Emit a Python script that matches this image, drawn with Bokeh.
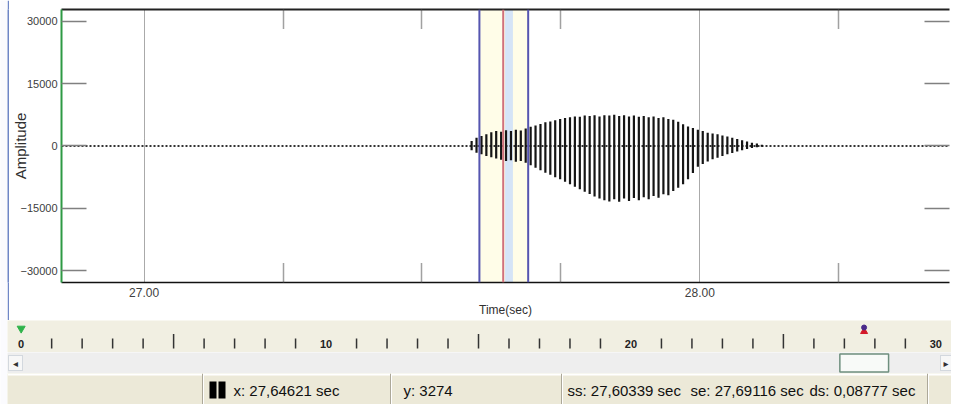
from bokeh.plotting import figure
from bokeh.layouts import column, row
from bokeh.models import (Range1d, LinearAxis, FixedTicker, PrintfTickFormatter,
                          Span, BoxAnnotation, Label, CustomJSTickFormatter)
from bokeh.core.properties import value
from bokeh.embed import file_html
from bokeh.resources import INLINE
from bokeh.core.validation import silence
from bokeh.core.validation.warnings import MISSING_RENDERERS

silence(MISSING_RENDERERS, True)

# ---------------- data ----------------
# visible window of the waveform view (seconds) and amplitude range
view_start, view_end = 26.8514, 28.4493
amp_min, amp_max = -32768, 32767
amp_ticks = [-30000, -15000, 0, 15000, 30000]
time_ticks = [27.0, 28.0]
time_minor = [27.25, 27.5, 27.75, 28.25]

# cursors / selection (seconds)
cursor_x = 27.64621
cursor_y = 3274
sel_start = 27.60339
sel_end = 27.69116
play_band = (27.6496, 27.6637)

# glottal pulses: time, positive peak, negative peak
pulse_t = [27.5894, 27.5982, 27.6071, 27.6159, 27.6248, 27.6336, 27.6425, 27.6513,
           27.6602, 27.6690, 27.6779, 27.6867, 27.6956, 27.7044, 27.7133, 27.7221,
           27.7310, 27.7398, 27.7487, 27.7575, 27.7664, 27.7752, 27.7841, 27.7929,
           27.8018, 27.8106, 27.8195, 27.8283, 27.8372, 27.8460, 27.8549, 27.8637,
           27.8726, 27.8814, 27.8903, 27.8991, 27.9080, 27.9168, 27.9257, 27.9345,
           27.9434, 27.9522, 27.9611, 27.9699, 27.9788, 27.9876, 27.9965, 28.0053,
           28.0142, 28.0230, 28.0319, 28.0407, 28.0496, 28.0584, 28.0673, 28.0761,
           28.0850, 28.0938, 28.1027, 28.1115]
pulse_hi = [1200, 2000, 2400, 2800, 3300, 3600, 3400, 3800, 3600, 3900,
            3700, 4200, 4600, 4900, 5300, 5700, 5900, 6200, 6500, 6700,
            6900, 7100, 7000, 7300, 7200, 7400, 7100, 7400, 7300, 7500,
            7200, 7400, 7100, 7300, 7000, 7200, 6900, 7100, 6700, 6900,
            6500, 6300, 5800, 5200, 4700, 4300, 3900, 3600, 3200, 3000,
            2800, 2500, 2300, 2000, 1700, 1400, 1100, 800, 600, 300]
pulse_lo = [-1000, -1600, -2000, -2400, -2700, -3000, -3300, -3600, -3400, -3800,
            -3600, -4000, -4600, -5200, -5800, -6400, -6900, -7500, -8000, -8600,
            -9200, -9800, -10400, -11000, -11500, -12100, -12600, -13000, -13300, -12800,
            -13400, -12600, -13200, -12500, -13000, -12300, -12800, -12000, -12400, -11600,
            -11800, -10800, -10000, -9200, -8000, -6500, -5000, -4300, -3700, -3200,
            -2800, -2400, -2000, -1700, -1300, -1000, -700, -500, -300, -200]

# overview ruler (whole file, seconds)
ruler_min, ruler_max = -0.448, 30.513
ruler_ticks = [1, 2, 3, 4, 6, 7, 8, 9, 11, 12, 13, 14, 16, 17, 18, 19,
               21, 22, 23, 24, 26, 27, 28, 29]
ruler_major = [5, 15, 25]
ruler_label_pos = [0, 10, 20, 30]
ruler_labels = ["0", "10", "20", "30"]
file_start = 0

def fmt(v, d):
    return f"{v:.{d}f}".replace(".", ",")

status_texts = [f"x: {fmt(cursor_x, 5)} sec", f"y: {cursor_y}",
                f"ss: {fmt(sel_start, 5)} sec", f"se: {fmt(sel_end, 5)} sec",
                f"ds: {fmt(sel_end - sel_start, 5)} sec"]

FONT = "Liberation Sans"

def blank(w, h, color):
    f = figure(width=w, height=h, toolbar_location=None, output_backend="svg",
               min_border=0, x_axis_location=None, y_axis_location=None,
               background_fill_color=color, border_fill_color=color,
               outline_line_color=None)
    f.grid.visible = False
    return f

# ---------------- main waveform view ----------------
p = figure(width=942, height=320, x_range=Range1d(view_start, view_end),
           y_range=Range1d(amp_min, amp_max), output_backend="svg",
           toolbar_location=None, min_border_left=52, min_border_right=2,
           min_border_top=9, min_border_bottom=38, outline_line_color=None,
           background_fill_color="white", border_fill_color="white")

xa = p.xaxis[0]
xa.ticker = FixedTicker(ticks=time_ticks, minor_ticks=time_minor)
xa.formatter = PrintfTickFormatter(format="%.2f")
xa.axis_label = "Time(sec)"
xa.axis_line_color = "#111111"
xa.axis_line_width = 1.5
xa.major_tick_in = 0
xa.major_tick_out = 0
xa.minor_tick_in = 19
xa.minor_tick_out = 0
xa.minor_tick_line_dash = "1 1"
xa.minor_tick_line_width = 1.5
xa.minor_tick_line_color = "#444444"
xa.major_label_text_font = FONT
xa.major_label_text_font_size = "12px"
xa.major_label_text_color = "#404040"
xa.major_label_standoff = 5
xa.axis_label_text_font = FONT
xa.axis_label_text_font_size = "12px"
xa.axis_label_text_font_style = "normal"
xa.axis_label_text_color = "#303030"
xa.axis_label_standoff = 3

ya = p.yaxis[0]
ya.ticker = FixedTicker(ticks=amp_ticks, minor_ticks=[])
ya.axis_label = "Amplitude"
ya.axis_line_color = "#2e9a44"
ya.axis_line_width = 2
ya.major_tick_in = 25
ya.major_tick_out = 0
ya.major_tick_line_color = "#808080"
ya.major_tick_line_width = 1.5
ya.minor_tick_in = 0
ya.minor_tick_out = 0
ya.major_label_text_font = FONT
ya.major_label_text_font_size = "11px"
ya.major_label_text_color = "#404040"
ya.major_label_standoff = 4
ya.axis_label_text_font = FONT
ya.axis_label_text_font_size = "15px"
ya.axis_label_text_font_style = "normal"
ya.axis_label_text_color = "#303030"
ya.axis_label_standoff = -12

top = LinearAxis(ticker=FixedTicker(ticks=time_ticks, minor_ticks=time_minor),
                 formatter=CustomJSTickFormatter(code="return ''"),
                 axis_line_color="#222222", axis_line_width=2,
                 major_tick_in=0, major_tick_out=0, minor_tick_in=20, minor_tick_out=0,
                 minor_tick_line_dash="1 1", minor_tick_line_width=1.5,
                 minor_tick_line_color="#444444",
                 major_label_text_font_size="0px", major_label_standoff=0)
p.add_layout(top, "above")

right = LinearAxis(ticker=FixedTicker(ticks=amp_ticks, minor_ticks=[]),
                   formatter=CustomJSTickFormatter(code="return ''"),
                   axis_line_color=None, major_tick_in=25, major_tick_out=0,
                   major_tick_line_color="#808080", major_tick_line_width=1.5,
                   minor_tick_in=0, minor_tick_out=0,
                   major_label_text_font_size="0px", major_label_standoff=0)
p.add_layout(right, "right")

p.xgrid.grid_line_color = "#555555"
p.xgrid.grid_line_dash = "1 1"
p.ygrid.visible = False

# selection and play band
p.add_layout(BoxAnnotation(left=sel_start, right=sel_end, fill_color="#fffde8",
                           fill_alpha=1, line_color=None, level="underlay"))
p.add_layout(BoxAnnotation(left=play_band[0], right=play_band[1], fill_color="#d5e4f7",
                           fill_alpha=1, line_color=None, level="underlay"))
p.add_layout(Span(location=0, dimension="width", line_color="#333333",
                  line_dash="2 2", line_width=2, level="underlay"))

# waveform
p.segment(x0=pulse_t, y0=pulse_lo, x1=pulse_t, y1=pulse_hi,
          line_color="#151515", line_width=2.2)

# cursors
for loc, col in [(sel_start, "#5555b0"), (sel_end, "#5555b0"), (cursor_x, "#d0707c")]:
    p.add_layout(Span(location=loc, dimension="height", line_color=col, line_width=2))

pad = blank(7, 404, "#fbfbfe")
strip = blank(2, 320, "#6f86c6")

# ---------------- overview ruler ----------------
r = figure(width=944, height=32, x_range=Range1d(ruler_min, ruler_max),
           y_range=Range1d(0, 32), toolbar_location=None, output_backend="svg",
           min_border=0, x_axis_location=None, y_axis_location=None,
           background_fill_color="#f1efe2", border_fill_color="#f1efe2",
           outline_line_color=None)
r.grid.visible = False
r.segment(x0=ruler_ticks, y0=4, x1=ruler_ticks, y1=14, line_color="#333333", line_width=1.5)
r.segment(x0=ruler_major, y0=4, x1=ruler_major, y1=18.5, line_color="#333333", line_width=1.5)
r.text(x=ruler_label_pos, y=9, text=ruler_labels, text_align="center",
       text_baseline="middle", text_font=value(FONT), text_font_style="bold",
       text_font_size="11px", text_color="#222222")
r.scatter(x=[file_start], y=[24], marker="inverted_triangle", size=8,
          fill_color="#2fb34a", line_color="#2fb34a")
r.scatter(x=[cursor_x], y=[21], marker="triangle", size=7,
          fill_color="#d41828", line_color="#d41828")
r.scatter(x=[cursor_x], y=[25], marker="circle", size=5,
          fill_color="#4a2a8a", line_color="#4a2a8a")

# ---------------- scrollbar ----------------
s = figure(width=944, height=21, x_range=r.x_range, y_range=Range1d(0, 21),
           toolbar_location=None, output_backend="svg", min_border=0,
           x_axis_location=None, y_axis_location=None,
           background_fill_color="#eeeeee", border_fill_color="#eeeeee",
           outline_line_color=None)
s.grid.visible = False
s.quad(left=[view_start], right=[view_end], bottom=1.5, top=19.5,
       fill_color="#f8faf8", line_color="#6e8f7e", line_width=1.5)
for lft, rgt, arrow in [(1, 15, "\u25c2"), (933, 944, "\u25b8")]:
    s.add_layout(BoxAnnotation(left=lft, right=rgt, left_units="screen",
                               right_units="screen", bottom=3, top=18,
                               fill_color="#f7f7f7", fill_alpha=1,
                               line_color="#8a9ab0", line_width=1))
    s.add_layout(Label(x=(lft + rgt) / 2, y=10.5, x_units="screen", text=arrow,
                       text_align="center", text_baseline="middle",
                       text_font="DejaVu Sans", text_font_size="10px",
                       text_color="#333333"))

# ---------------- status bar ----------------
st = figure(width=944, height=31, x_range=Range1d(0, 1), y_range=Range1d(0, 31),
            toolbar_location=None, output_backend="svg", min_border=0,
            x_axis_location=None, y_axis_location=None,
            background_fill_color="#ece9d8", border_fill_color="#ece9d8",
            outline_line_color=None)
st.grid.visible = False
st.add_layout(Span(location=30, dimension="width", line_color="#ffffff", line_width=2))
for sx in [195, 383, 554, 920]:
    st.add_layout(Span(location=sx, location_units="screen", dimension="height",
                       line_color="#aca899", line_width=1))
    st.add_layout(Span(location=sx + 1, location_units="screen", dimension="height",
                       line_color="#ffffff", line_width=1))
for lft, rgt in [(202, 209), (211, 218)]:
    st.add_layout(BoxAnnotation(left=lft, right=rgt, left_units="screen",
                                right_units="screen", bottom=6, top=23,
                                fill_color="#000000", fill_alpha=1, line_color=None))
for sx, txt in zip([226, 396, 560, 683, 802], status_texts):
    st.add_layout(Label(x=sx, y=14.5, x_units="screen", text=txt,
                        text_baseline="middle", text_font=FONT,
                        text_font_size="15px", text_color="#111111"))

layout = row(pad, column(row(strip, p), r, s, st))
open("out.html", "w").write(file_html(layout, INLINE))
